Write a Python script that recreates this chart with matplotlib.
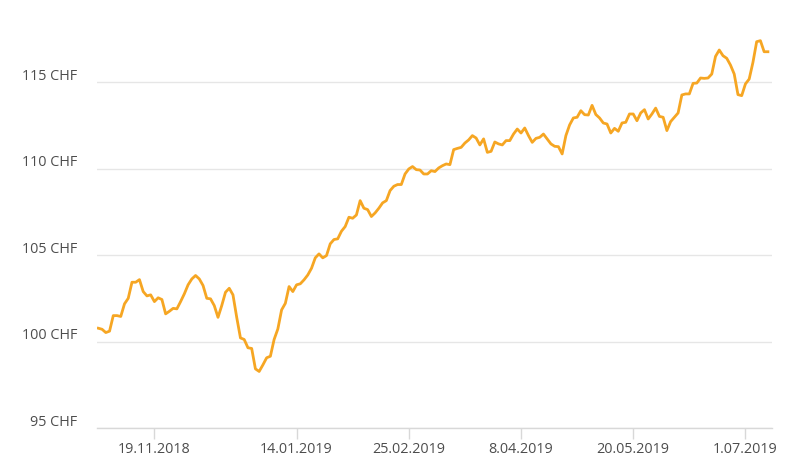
import numpy as np
import pandas as pd
import matplotlib
matplotlib.use("Agg")
import matplotlib.pyplot as plt
from matplotlib.transforms import ScaledTranslation

plt.rcParams['font.family'] = ['Open Sans', 'DejaVu Sans']

# Kursverlauf in CHF (ein Wert pro Handelstag, ab 29.10.2018)
werte = [
    100.77, 100.71, 100.52, 100.60, 101.50, 101.50, 101.45, 102.18, 102.50, 103.43,
    103.43, 103.58, 102.89, 102.64, 102.70, 102.31, 102.53, 102.43, 101.60, 101.75,
    101.92, 101.89, 102.31, 102.76, 103.28, 103.62, 103.82, 103.62, 103.24, 102.50,
    102.47, 102.08, 101.40, 102.08, 102.85, 103.08, 102.70, 101.40, 100.21, 100.12,
    99.64, 99.60, 98.42, 98.27, 98.65, 99.06, 99.15, 100.12, 100.73, 101.83,
    102.21, 103.18, 102.89, 103.28, 103.34, 103.57, 103.85, 104.24, 104.84, 105.07,
    104.84, 104.97, 105.65, 105.90, 105.94, 106.38, 106.65, 107.19, 107.13, 107.32,
    108.15, 107.71, 107.63, 107.23, 107.44, 107.71, 108.02, 108.15, 108.73, 108.98,
    109.08, 109.08, 109.69, 109.98, 110.12, 109.94, 109.92, 109.69, 109.69, 109.88,
    109.83, 110.04, 110.17, 110.27, 110.23, 111.10, 111.17, 111.23, 111.48, 111.66,
    111.91, 111.77, 111.37, 111.72, 110.94, 111.00, 111.54, 111.43, 111.37, 111.62,
    111.62, 112.00, 112.29, 112.06, 112.35, 111.91, 111.52, 111.75, 111.81, 112.00,
    111.72, 111.43, 111.29, 111.27, 110.85, 111.91, 112.53, 112.93, 112.97, 113.35,
    113.12, 113.10, 113.66, 113.13, 112.93, 112.64, 112.58, 112.06, 112.33, 112.16,
    112.64, 112.68, 113.16, 113.16, 112.77, 113.22, 113.41, 112.87, 113.16, 113.50,
    113.02, 112.97, 112.20, 112.72, 112.97, 113.22, 114.26, 114.32, 114.32, 114.93,
    114.95, 115.24, 115.22, 115.24, 115.47, 116.49, 116.86, 116.53, 116.38, 115.99,
    115.47, 114.28, 114.22, 114.90, 115.18, 116.14, 117.34, 117.40, 116.76, 116.76,
]

feiertage = ["2018-12-25", "2019-01-01"]
tick_daten = ["2018-11-19", "2019-01-14", "2019-02-25", "2019-04-08", "2019-05-20", "2019-07-01"]
y_ticks = [95, 100, 105, 110, 115]

tage = pd.bdate_range("2018-10-29", "2019-08-30")
tage = tage[~tage.isin(pd.to_datetime(feiertage))][:len(werte)]
idx = np.arange(len(werte))

fig = plt.figure(figsize=(7.85, 4.68), dpi=100)
ax = fig.add_axes([97/785, 40/468, 675/785, 415/468])

ax.plot(idx, werte, color='#f6a623', lw=2.0, solid_joinstyle='round', zorder=3)

# x-Achse: Ticks an den Positionen der Datumswerte (ordinale Achse)
tick_pos = [int(np.searchsorted(tage, pd.Timestamp(d))) for d in tick_daten]
tick_lab = [f"{pd.Timestamp(d).day}.{pd.Timestamp(d).month:02d}.{pd.Timestamp(d).year}" for d in tick_daten]
ax.set_xticks(tick_pos)
ax.set_xticklabels(tick_lab)
ax.set_xlim(-0.35, 180.1)

ax.set_ylim(95, 119)
ax.set_yticks(y_ticks)
ax.set_yticklabels([f"{v} CHF" for v in y_ticks])

ax.grid(axis='y', color='#e6e6e6', lw=1)
ax.set_axisbelow(True)
for s in ['top', 'right', 'left']:
    ax.spines[s].set_visible(False)
ax.spines['bottom'].set_color('#d8d8d8')
ax.spines['bottom'].set_linewidth(1)

ax.tick_params(axis='x', length=8, width=1, color='#d8d8d8', labelsize=10.4,
               labelcolor='#4d4d4d', pad=2)
ax.tick_params(axis='y', length=0, labelsize=10.4, labelcolor='#4d4d4d', pad=14)

# y-Beschriftungen etwas oberhalb der Gitterlinien
versatz = ScaledTranslation(0, 8/100, fig.dpi_scale_trans)
for lab in ax.get_yticklabels():
    lab.set_transform(lab.get_transform() + versatz)

fig.savefig("out.png", dpi=100)
